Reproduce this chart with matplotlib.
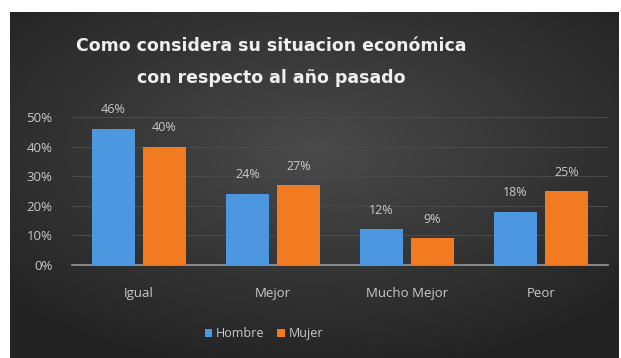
import numpy as np
import matplotlib
matplotlib.use("Agg")
from matplotlib import pyplot as plt

# survey answers, share of respondents per group
categorias = ["Igual", "Mejor", "Mucho Mejor", "Peor"]
hombre = [0.46, 0.24, 0.12, 0.18]
mujer = [0.40, 0.27, 0.09, 0.25]
yticks = [0.0, 0.1, 0.2, 0.3, 0.4, 0.5]

W, H = 621, 358
fig = plt.figure(figsize=(W / 100, H / 100), dpi=100, facecolor="white")

# dark radial background panel
bg = fig.add_axes([10 / W, 0, 609 / W, 346 / H])
yy, xx = np.mgrid[-1:1:200j, -1:1:350j]
r = np.sqrt((xx * 0.85) ** 2 + ((yy + 0.2) * 0.9) ** 2)
shade = np.clip(0.29 - 0.13 * r, 0.14, 0.3)
bg.imshow(np.dstack([shade] * 3), aspect="auto", extent=[0, 1, 0, 1], interpolation="bilinear")
bg.axis("off")

ax = fig.add_axes([72 / W, 93 / H, 536 / W, 148 / H])
ax.set_facecolor("none")

x = np.arange(len(categorias))
w = 0.32
b1 = ax.bar(x - 0.19, hombre, w, color="#4D96E0", zorder=3, label="Hombre")
b2 = ax.bar(x + 0.19, mujer, w, color="#F27B22", zorder=3, label="Mujer")

txt = "#c9c9c9"
for bars, vals in [(b1, hombre), (b2, mujer)]:
    for bar, v in zip(bars, vals):
        ax.annotate("{:.0%}".format(v), (bar.get_x() + bar.get_width() / 2, v),
                    xytext=(0, 9), textcoords="offset points", ha="center", va="bottom",
                    color=txt, fontsize=9, family="Open Sans", annotation_clip=False)

ax.set_xlim(-0.5, 3.5)
ax.set_ylim(0, 0.5)
ax.set_yticks(yticks)
ax.set_yticklabels(["{:.0%}".format(t) for t in yticks], color=txt, fontsize=9.5, family="Open Sans")
ax.set_xticks(x)
ax.set_xticklabels(categorias, color=txt, fontsize=9.5, family="Open Sans")
ax.tick_params(length=0, pad=14, axis="y")
ax.tick_params(length=0, pad=16, axis="x")
ax.grid(axis="y", color="#4a4a4a", linewidth=0.8, zorder=0)
for s in ["top", "right", "left"]:
    ax.spines[s].set_visible(False)
ax.spines["bottom"].set_color("#9a9a9a")
ax.spines["bottom"].set_linewidth(1.2)

title_kw = dict(ha="center", va="center", color="#eeeeee", fontsize=12.5,
                fontweight="bold", family="DejaVu Sans")
fig.text(0.436, 1 - 46 / H, "Como considera su situacion económica", **title_kw)
fig.text(0.436, 1 - 78 / H, "con respecto al año pasado", **title_kw)

leg = fig.legend(handles=[b1, b2], loc="center", bbox_to_anchor=(0.425, 0.068), ncol=2,
                 frameon=False, handlelength=0.6, handleheight=0.6,
                 handletextpad=0.3, columnspacing=1.0, prop={"family": "Open Sans", "size": 9})
for t in leg.get_texts():
    t.set_color(txt)

fig.savefig("out.png", dpi=100, facecolor=fig.get_facecolor())
